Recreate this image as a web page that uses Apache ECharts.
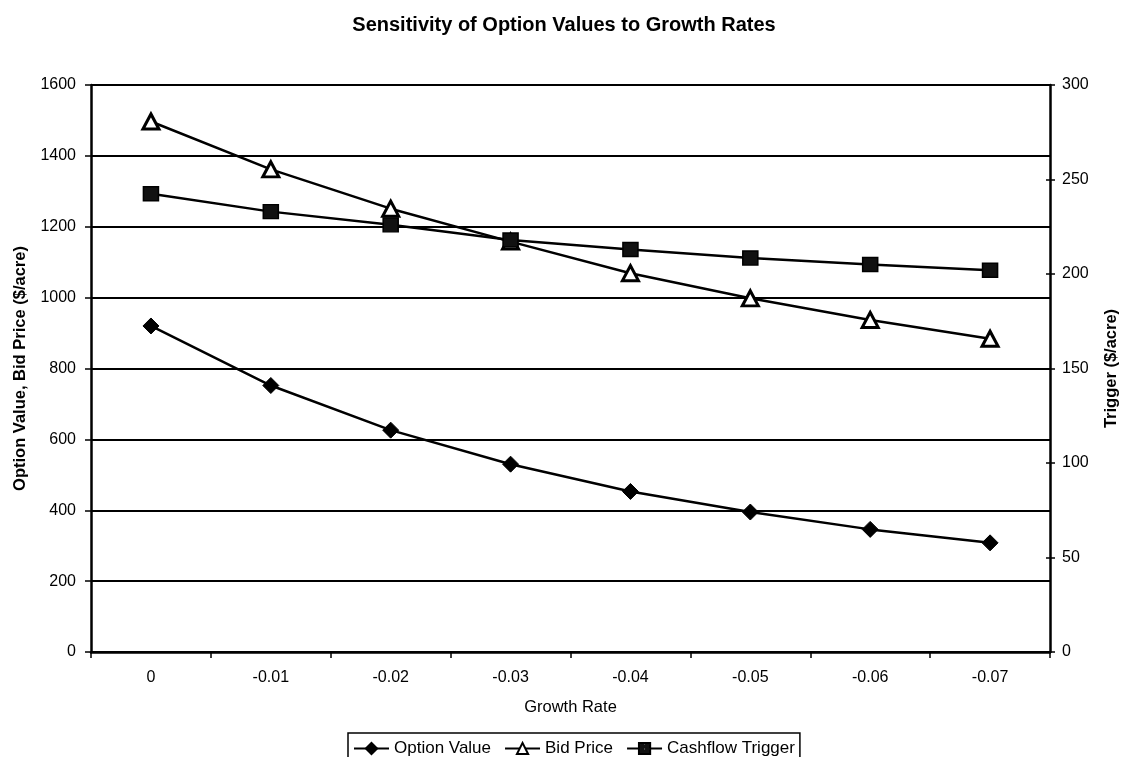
<!DOCTYPE html>
<html>
<head>
<meta charset="utf-8">
<script src="https://cdn.jsdelivr.net/npm/echarts@6/dist/echarts.min.js"></script>
<style>
  html, body { margin: 0; padding: 0; background: #fff; }
  #chart { width: 1128px; height: 757px; }
</style>
</head>
<body>
<div id="chart"></div>
<script>
// Growth-rate scenarios along the x axis
const growthRates = ['0', '-0.01', '-0.02', '-0.03', '-0.04', '-0.05', '-0.06', '-0.07'];

// Left axis series ($/acre)
const optionValue = [920, 752, 626, 530, 453, 395, 346, 308];
const bidPrice = [1497, 1362, 1251, 1158, 1069, 998, 937, 884];

// Right axis series ($/acre)
const cashflowTrigger = [242.5, 233, 226, 218, 213, 208.5, 205, 202];

const FONT = '"Liberation Sans", Arial, sans-serif';

// Speckled fill for the square markers
function speckle() {
  const c = document.createElement('canvas');
  c.width = 5; c.height = 5;
  const g = c.getContext('2d');
  g.fillStyle = '#111';
  g.fillRect(0, 0, 5, 5);
  g.fillStyle = '#8a8a8a';
  g.fillRect(2, 2, 1, 1);
  return c;
}

const chart = echarts.init(document.getElementById('chart'), null, { renderer: 'canvas' });

const axisText = { color: '#000', fontFamily: FONT, fontSize: 16 };
const plain = v => String(v);

chart.setOption({
  backgroundColor: '#fff',
  animation: false,
  textStyle: { fontFamily: FONT, color: '#000' },
  title: {
    text: 'Sensitivity of Option Values to Growth Rates',
    left: 'center',
    top: 10,
    padding: [5, 5, 5, 19],
    textStyle: { fontFamily: FONT, fontSize: 20, fontWeight: 'bold', color: '#000' }
  },
  legend: {
    top: 733,
    left: 348,
    itemWidth: 35,
    itemHeight: 14,
    itemGap: 13,
    padding: [7, 5, 5, 5],
    borderColor: '#000',
    borderWidth: 1.5,
    textStyle: { fontFamily: FONT, fontSize: 17, color: '#000' },
    data: ['Option Value', 'Bid Price', 'Cashflow Trigger']
  },
  grid: { left: 91, right: 68, top: 85, bottom: 105, containLabel: false },
  xAxis: {
    type: 'category',
    data: growthRates,
    boundaryGap: true,
    name: 'Growth Rate',
    nameLocation: 'middle',
    nameGap: 47,
    nameTextStyle: { fontFamily: FONT, fontSize: 16.5, color: '#000' },
    axisLine: { lineStyle: { color: '#000', width: 2.5 } },
    axisTick: { show: true, length: 6, lineStyle: { color: '#000', width: 1.5 } },
    axisLabel: Object.assign({ margin: 18 }, axisText),
    splitLine: { show: false }
  },
  yAxis: [
    {
      type: 'value',
      min: 0,
      max: 1600,
      interval: 200,
      position: 'left',
      name: 'Option Value, Bid Price ($/acre)',
      nameLocation: 'middle',
      nameRotate: 90,
      nameGap: 62,
      nameTextStyle: { fontFamily: FONT, fontSize: 16.5, fontWeight: 'bold', color: '#000' },
      axisLine: { show: true, lineStyle: { color: '#000', width: 2.5 } },
      axisTick: { show: true, length: 6, lineStyle: { color: '#000', width: 1.5 } },
      axisLabel: Object.assign({ margin: 15, formatter: plain }, axisText),
      splitLine: { show: true, lineStyle: { color: '#000', width: 1.8 } }
    },
    {
      type: 'value',
      min: 0,
      max: 300,
      interval: 50,
      position: 'right',
      name: 'Trigger ($/acre)',
      nameLocation: 'middle',
      nameRotate: 90,
      nameGap: 53,
      nameTextStyle: { fontFamily: FONT, fontSize: 16.5, fontWeight: 'bold', color: '#000' },
      axisLine: { show: true, lineStyle: { color: '#000', width: 2.5 } },
      axisTick: { show: true, length: 5, lineStyle: { color: '#000', width: 1.5 } },
      axisLabel: Object.assign({ margin: 12, formatter: plain }, axisText),
      splitLine: { show: false }
    },
    {
      // inner half of the crossing tick marks on the right axis
      type: 'value',
      min: 0,
      max: 300,
      interval: 50,
      position: 'right',
      axisLine: { show: false },
      axisTick: { show: true, inside: true, length: 4, lineStyle: { color: '#000', width: 1.5 } },
      axisLabel: { show: false },
      splitLine: { show: false }
    }
  ],
  series: [
    {
      name: 'Option Value',
      type: 'line',
      yAxisIndex: 0,
      data: optionValue,
      symbol: 'diamond',
      symbolSize: 16,
      lineStyle: { color: '#000', width: 2.5 },
      itemStyle: { color: '#000', borderColor: '#000', borderWidth: 1 }
    },
    {
      name: 'Bid Price',
      type: 'line',
      yAxisIndex: 0,
      data: bidPrice,
      symbol: 'triangle',
      symbolSize: [16, 15],
      lineStyle: { color: '#000', width: 2.5 },
      itemStyle: { color: '#fff', borderColor: '#000', borderWidth: 3 }
    },
    {
      name: 'Cashflow Trigger',
      type: 'line',
      yAxisIndex: 1,
      data: cashflowTrigger,
      symbol: 'rect',
      symbolSize: [15, 14],
      lineStyle: { color: '#000', width: 2.5 },
      itemStyle: { color: { image: speckle(), repeat: 'repeat' }, borderColor: '#000', borderWidth: 1.5 }
    }
  ]
});
</script>
</body>
</html>
